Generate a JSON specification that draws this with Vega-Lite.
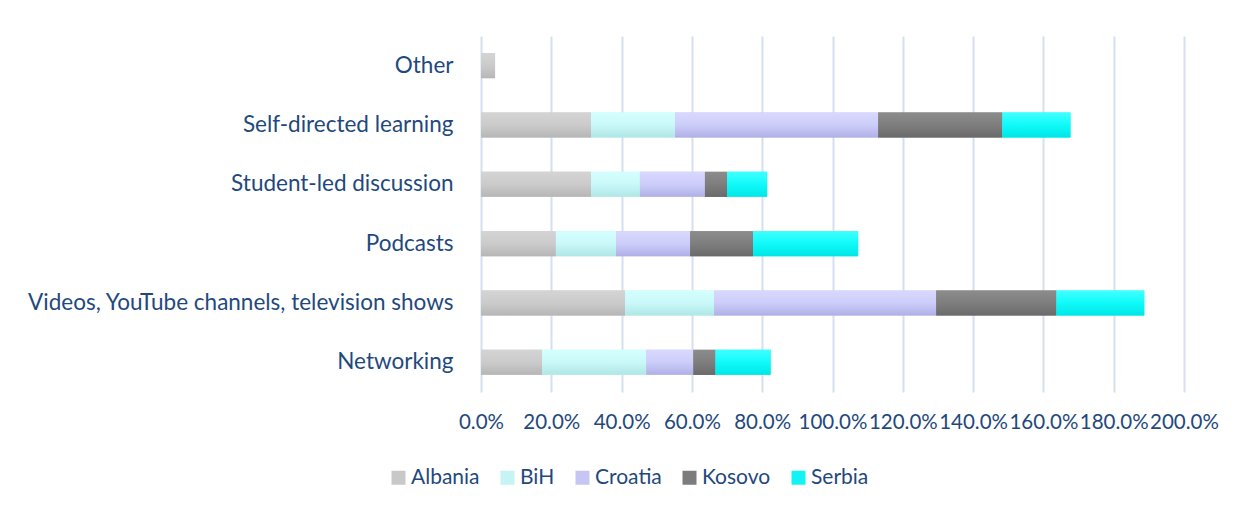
{
  "$schema": "https://vega.github.io/schema/vega-lite/v6.json",
  "width": 703,
  "height": 356,
  "padding": {"left": 481, "top": 36, "right": 51, "bottom": 116},
  "autosize": {"type": "none"},
  "background": "white",
  "config": {
    "view": {"stroke": null},
    "font": "Lato"
  },
  "data": {
    "values": [
      {"method": "Other", "country": "Albania", "share": 0.04},
      {"method": "Self-directed learning", "country": "Albania", "share": 0.313},
      {"method": "Self-directed learning", "country": "BiH", "share": 0.239},
      {"method": "Self-directed learning", "country": "Croatia", "share": 0.578},
      {"method": "Self-directed learning", "country": "Kosovo", "share": 0.353},
      {"method": "Self-directed learning", "country": "Serbia", "share": 0.194},
      {"method": "Student-led discussion", "country": "Albania", "share": 0.313},
      {"method": "Student-led discussion", "country": "BiH", "share": 0.139},
      {"method": "Student-led discussion", "country": "Croatia", "share": 0.185},
      {"method": "Student-led discussion", "country": "Kosovo", "share": 0.063},
      {"method": "Student-led discussion", "country": "Serbia", "share": 0.114},
      {"method": "Podcasts", "country": "Albania", "share": 0.213},
      {"method": "Podcasts", "country": "BiH", "share": 0.171},
      {"method": "Podcasts", "country": "Croatia", "share": 0.211},
      {"method": "Podcasts", "country": "Kosovo", "share": 0.179},
      {"method": "Podcasts", "country": "Serbia", "share": 0.299},
      {"method": "Videos, YouTube channels, television shows", "country": "Albania", "share": 0.41},
      {"method": "Videos, YouTube channels, television shows", "country": "BiH", "share": 0.253},
      {"method": "Videos, YouTube channels, television shows", "country": "Croatia", "share": 0.632},
      {"method": "Videos, YouTube channels, television shows", "country": "Kosovo", "share": 0.342},
      {"method": "Videos, YouTube channels, television shows", "country": "Serbia", "share": 0.25},
      {"method": "Networking", "country": "Albania", "share": 0.174},
      {"method": "Networking", "country": "BiH", "share": 0.296},
      {"method": "Networking", "country": "Croatia", "share": 0.134},
      {"method": "Networking", "country": "Kosovo", "share": 0.063},
      {"method": "Networking", "country": "Serbia", "share": 0.157}
    ]
  },
  "transform": [
    {"stack": "share", "groupby": ["method"], "sort": [{"field": "country", "order": "ascending"}], "as": ["x0", "x1"]}
  ],
  "encoding": {
    "y": {
      "field": "method",
      "type": "nominal",
      "sort": ["Other", "Self-directed learning", "Student-led discussion", "Podcasts", "Videos, YouTube channels, television shows", "Networking"],
      "scale": {"paddingInner": 0.578, "paddingOuter": 0.289},
      "axis": {
        "title": null,
        "domain": false,
        "ticks": false,
        "labelPadding": 28,
        "labelFontSize": 22.5,
        "labelColor": "#1F497D",
        "labelLimit": 0
      }
    },
    "x": {
      "field": "x0",
      "type": "quantitative",
      "scale": {"domain": [0, 2], "nice": false, "zero": true},
      "axis": {
        "title": null,
        "format": ".1%",
        "values": [0, 0.2, 0.4, 0.6, 0.8, 1.0, 1.2, 1.4, 1.6, 1.8, 2.0],
        "domain": false,
        "ticks": false,
        "grid": true,
        "gridColor": "#D5E0F0",
        "gridWidth": 2,
        "labelPadding": 20,
        "labelFontSize": 20.5,
        "labelColor": "#1F497D",
        "labelOverlap": false,
        "labelFlush": false
      }
    },
    "x2": {"field": "x1"}
  },
  "layer": [
    {
      "mark": {"type": "bar"},
      "encoding": {
        "color": {
          "field": "country",
          "type": "nominal",
          "scale": {
            "domain": ["Albania", "BiH", "Croatia", "Kosovo", "Serbia"],
            "range": ["#C8C8C8", "#C6F3F3", "#C6C6F4", "#7C7C7C", "#12F4F4"]
          },
          "legend": {
            "title": null,
            "orient": "none",
            "direction": "horizontal",
            "legendX": -93,
            "legendY": 431,
            "symbolType": "square",
            "symbolSize": 196,
            "symbolStrokeWidth": 0,
            "symbolOpacity": 1,
            "labelFontSize": 21,
            "labelColor": "#1F497D",
            "labelOffset": 2,
            "columnPadding": 17
          }
        }
      }
    },
    {
      "transform": [{"filter": "datum.country === 'Albania'"}],
      "mark": {"type": "bar", "fill": {"gradient": "linear", "x1": 0, "y1": 0, "x2": 0, "y2": 1, "stops": [{"offset": 0, "color": "#D4D4D4"}, {"offset": 0.5, "color": "#CBCBCB"}, {"offset": 1, "color": "#B6B6B6"}]}}
    },
    {
      "transform": [{"filter": "datum.country === 'BiH'"}],
      "mark": {"type": "bar", "fill": {"gradient": "linear", "x1": 0, "y1": 0, "x2": 0, "y2": 1, "stops": [{"offset": 0, "color": "#D4FFFF"}, {"offset": 0.5, "color": "#CAF8F8"}, {"offset": 1, "color": "#AFE6E6"}]}}
    },
    {
      "transform": [{"filter": "datum.country === 'Croatia'"}],
      "mark": {"type": "bar", "fill": {"gradient": "linear", "x1": 0, "y1": 0, "x2": 0, "y2": 1, "stops": [{"offset": 0, "color": "#D8D8FF"}, {"offset": 0.5, "color": "#CDCDFA"}, {"offset": 1, "color": "#AFAFE6"}]}}
    },
    {
      "transform": [{"filter": "datum.country === 'Kosovo'"}],
      "mark": {"type": "bar", "fill": {"gradient": "linear", "x1": 0, "y1": 0, "x2": 0, "y2": 1, "stops": [{"offset": 0, "color": "#8C8C8C"}, {"offset": 0.5, "color": "#7E7E7E"}, {"offset": 1, "color": "#6A6A6A"}]}}
    },
    {
      "transform": [{"filter": "datum.country === 'Serbia'"}],
      "mark": {"type": "bar", "fill": {"gradient": "linear", "x1": 0, "y1": 0, "x2": 0, "y2": 1, "stops": [{"offset": 0, "color": "#40FFFF"}, {"offset": 0.5, "color": "#10FAFA"}, {"offset": 1, "color": "#00E6E6"}]}}
    }
  ]
}
